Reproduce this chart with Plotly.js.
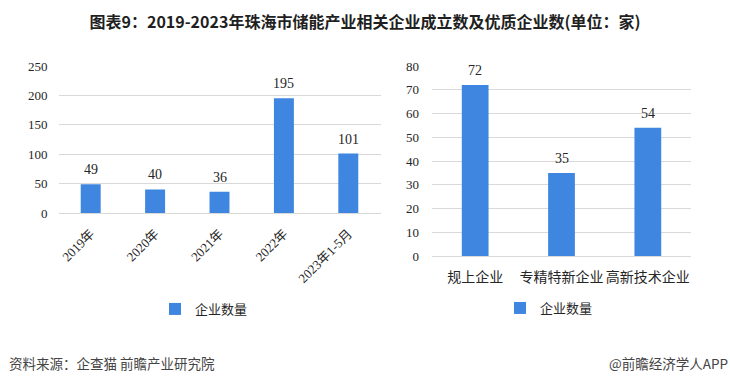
<!DOCTYPE html>
<html>
<head>
<meta charset="utf-8">
<script src="https://cdn.plot.ly/plotly-3.0.1.min.js"></script>
<style>html,body{margin:0;padding:0;background:#fff}#chart{width:730px;height:384px}</style>
</head>
<body>
<div id="chart"></div>
<script>
const leftCategories = ["2019年", "2020年", "2021年", "2022年", "2023年1-5月"];
const leftValues = [49, 40, 36, 195, 101];
const rightCategories = ["规上企业", "专精特新企业", "高新技术企业"];
const rightValues = [72, 35, 54];
const seriesName = "企业数量";
const leftTicks = [0, 50, 100, 150, 200, 250];
const rightTicks = [0, 10, 20, 30, 40, 50, 60, 70, 80];

const barColor = "#3f86e0";
const serif = "'Liberation Serif', 'Noto Sans CJK SC', serif";
const sans = "'Noto Sans CJK SC', sans-serif";

const traces = [
  {type: "bar", x: leftCategories, y: leftValues, name: seriesName, marker: {color: barColor},
   xaxis: "x", yaxis: "y", legend: "legend", hoverinfo: "x+y"},
  {type: "bar", x: rightCategories, y: rightValues, name: seriesName, marker: {color: barColor},
   xaxis: "x2", yaxis: "y2", legend: "legend2", hoverinfo: "x+y"}
];

const annotations = [];
leftCategories.forEach((c, i) => annotations.push({x: c, y: leftValues[i], xref: "x", yref: "y",
  text: String(leftValues[i]), showarrow: false, yanchor: "bottom", yshift: 5,
  font: {family: serif, size: 14, color: "#262626"}}));
rightCategories.forEach((c, i) => annotations.push({x: c, y: rightValues[i], xref: "x2", yref: "y2",
  text: String(rightValues[i]), showarrow: false, yanchor: "bottom", yshift: 5,
  font: {family: serif, size: 14, color: "#262626"}}));
annotations.push({text: "资料来源：企查猫 前瞻产业研究院", xref: "paper", yref: "paper", x: 0.009, y: 1 - 363/384,
  xanchor: "left", yanchor: "middle", showarrow: false, font: {family: sans, size: 13.5, color: "#444"}});
annotations.push({text: "@前瞻经济学人APP", xref: "paper", yref: "paper", x: 1, y: 1 - 363/384,
  xanchor: "right", yanchor: "middle", showarrow: false, font: {family: sans, size: 13.5, color: "#444"}});

const layout = {
  width: 730, height: 384,
  margin: {l: 0, r: 0, t: 0, b: 0},
  paper_bgcolor: "#fff", plot_bgcolor: "#fff",
  showlegend: true,
  bargap: 0.69,
  title: {text: "<b>图表9：2019-2023年珠海市储能产业相关企业成立数及优质企业数(单位：家)</b>",
    x: 0.5, xanchor: "center", y: 1 - 22/384, yanchor: "middle",
    font: {family: sans, size: 16, color: "#1f1f1f"}},
  xaxis: {domain: [58.5/730, 380.5/730], anchor: "y", tickangle: -45, showline: true, linecolor: "#d9d9d9",
    ticks: "", ticklabelstandoff: 7, tickfont: {family: serif, size: 13, color: "#262626"}, fixedrange: true},
  yaxis: {domain: [1 - 213/384, 1 - 66/384], anchor: "x", range: [0, 250], tickvals: leftTicks,
    gridcolor: "#d9d9d9", zeroline: false, showline: false, ticks: "", ticklabelstandoff: 10,
    tickfont: {family: serif, size: 13, color: "#262626"}, fixedrange: true},
  xaxis2: {domain: [432/730, 691/730], anchor: "y2", tickangle: 0, showline: true, linecolor: "#d9d9d9",
    ticks: "", ticklabelstandoff: 8, tickfont: {family: sans, size: 14, color: "#262626"}, fixedrange: true},
  yaxis2: {domain: [1 - 256/384, 1 - 66/384], anchor: "x2", range: [0, 80], tickvals: rightTicks,
    gridcolor: "#d9d9d9", zeroline: false, showline: false, ticks: "", ticklabelstandoff: 12,
    tickfont: {family: serif, size: 13, color: "#262626"}, fixedrange: true},
  legend: {x: 155/730, y: 1 - 309/384, xanchor: "left", yanchor: "middle", orientation: "h",
    font: {family: sans, size: 13, color: "#262626"}, bgcolor: "rgba(0,0,0,0)"},
  legend2: {x: 500/730, y: 1 - 308/384, xanchor: "left", yanchor: "middle", orientation: "h",
    font: {family: sans, size: 13, color: "#262626"}, bgcolor: "rgba(0,0,0,0)"},
  annotations: annotations
};

Plotly.newPlot("chart", traces, layout, {displayModeBar: false, staticPlot: true});
</script>
</body>
</html>
